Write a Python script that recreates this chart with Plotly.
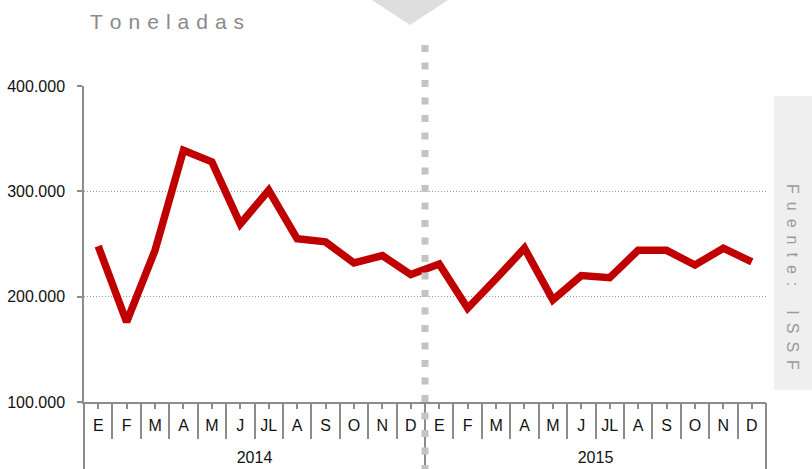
import plotly.graph_objects as go

years = ["2014", "2015"]
months = ["E", "F", "M", "A", "M", "J", "JL", "A", "S", "O", "N", "D"] * 2
values = [248000, 176000, 244000, 339000, 328000, 269000, 301000, 255000, 252000, 232000, 239000, 221000,
          231000, 189000, 217000, 246000, 197000, 220000, 218000, 244000, 244000, 230000, 246000, 233000]
y_ticks = [100000, 200000, 300000, 400000]

W, H = 812, 469
L, R, T, B = 84, 766, 86, 402
def px(x): return (x - L) / (R - L)
def py(y): return (B - y) / (B - T)

FONT = "Liberation Sans, Arial, sans-serif"
AXC = "#8c8c8c"

n = len(months)
idx = list(range(n))
per_year = n // len(years)

fig = go.Figure()
fig.add_trace(go.Scatter(x=idx, y=values, mode="lines",
                         line=dict(color="#c00000", width=7.5), hoverinfo="skip", showlegend=False))
fig.add_trace(go.Scatter(x=idx, y=values, xaxis="x2", mode="lines",
                         line=dict(color="rgba(0,0,0,0)", width=0), hoverinfo="skip", showlegend=False))

fig.update_layout(
    width=W, height=H, margin=dict(l=L, r=W - R, t=T, b=H - B, autoexpand=False),
    paper_bgcolor="white", plot_bgcolor="white", separators=",.",
    showlegend=False,
    xaxis=dict(range=[-0.5, n - 0.5], automargin=False, showline=True, linecolor=AXC, linewidth=1.5,
               tickmode="array", tickvals=idx, ticktext=months, ticks="outside", ticklen=5,
               tickcolor=AXC, tickwidth=1.5, showgrid=False, zeroline=False,
               tickfont=dict(family=FONT, size=16, color="#111"), ticklabelstandoff=3,
               minor=dict(tickvals=[i + 0.5 for i in range(n - 1)], ticks="outside", ticklen=35,
                          tickcolor=AXC, tickwidth=1.5, showgrid=False)),
    xaxis2=dict(overlaying="x", anchor="y", side="bottom", range=[-0.5, n - 0.5], automargin=False,
                tickmode="array",
                tickvals=[k * per_year + (per_year - 1) / 2 for k in range(len(years))], ticktext=years,
                ticks="", showticklabels=True, showgrid=False, zeroline=False, showline=False,
                tickfont=dict(family=FONT, size=16, color="#111"), ticklabelstandoff=44,
                minor=dict(tickvals=[k * per_year - 0.5 for k in range(len(years) + 1)], ticks="outside",
                           ticklen=70, tickcolor=AXC, tickwidth=1.5, showgrid=False)),
    yaxis=dict(range=[100000, 400000], automargin=False, tickvals=y_ticks, tickformat=",d", showgrid=True,
               gridcolor="#9a9a9a", griddash="1px,2px", gridwidth=1, showline=True, linecolor=AXC,
               linewidth=1.5, ticks="outside", ticklen=5, tickcolor=AXC, tickwidth=1.5, zeroline=False,
               ticklabelstandoff=9, tickfont=dict(family=FONT, size=16, color="#111")),
)

fig.add_shape(type="rect", xref="paper", yref="paper", x0=px(774), x1=px(812), y0=py(390), y1=py(96),
              fillcolor="#efefef", line=dict(width=0), layer="below")
fig.add_shape(type="path", xref="paper", yref="paper",
              path=f"M {px(372)} {py(0)} L {px(448)} {py(0)} L {px(410)} {py(25)} Z",
              fillcolor="#dedede", line=dict(width=0), layer="below")
fig.add_shape(type="line", xref="x", yref="paper", x0=11.5, x1=11.5, y0=py(45), y1=py(469),
              line=dict(color="#c3c3c3", width=7, dash="7px,10.5px"), layer="above")

sp = "\u2004"
fig.add_annotation(text=sp.join("Toneladas"), xref="paper", yref="paper", x=px(88), y=py(21),
                   xanchor="left", yanchor="middle", showarrow=False,
                   font=dict(family=FONT, size=21, color="#8a8a8a"))
src = "\u2002".join("Fuente:") + "\u2002\u2002\u2002" + "\u2002".join("ISSF")
fig.add_annotation(text=src, xref="paper", yref="paper", x=px(793), y=py(277), textangle=90,
                   xanchor="center", yanchor="middle", showarrow=False,
                   font=dict(family=FONT, size=16, color="#9a9a9a"))

fig.write_html("out.html", config={"displayModeBar": False},
               post_script="document.body.style.margin='0';document.body.style.overflow='hidden';")
